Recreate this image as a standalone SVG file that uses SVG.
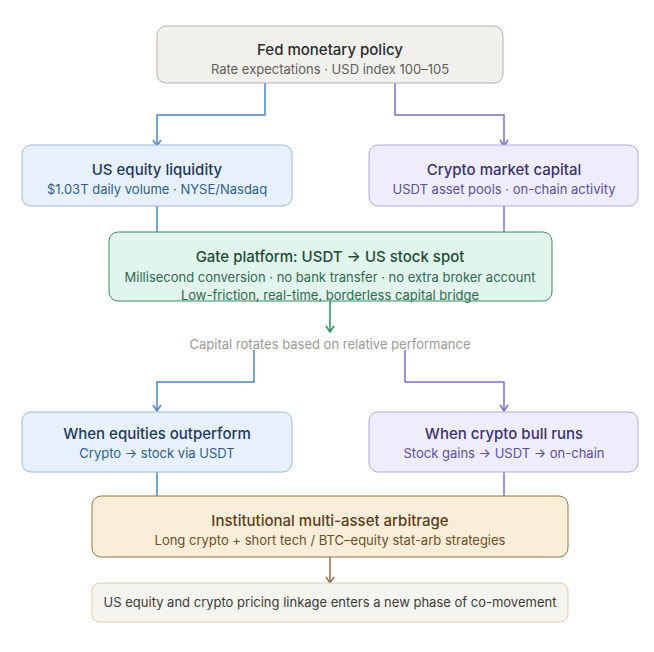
<svg xmlns="http://www.w3.org/2000/svg" width="654" height="652" viewBox="0 0 654 652">
<defs>
<style>
text{font-family:Inter,"Noto Sans","Liberation Sans",sans-serif;text-anchor:middle}
.t{font-size:15px;font-weight:500}
.s{font-size:13px}
.c{fill:none;stroke-width:1.5}
</style>
<marker id="aB" viewBox="0 0 10 10" refX="5" refY="9" markerWidth="10" markerHeight="10" markerUnits="userSpaceOnUse"><path d="M1,3 L5,9 L9,3" fill="none" stroke="#4a86c8" stroke-width="1.5"/></marker>
<marker id="aP" viewBox="0 0 10 10" refX="5" refY="9" markerWidth="10" markerHeight="10" markerUnits="userSpaceOnUse"><path d="M1,3 L5,9 L9,3" fill="none" stroke="#7b6fc8" stroke-width="1.5"/></marker>
<marker id="aG" viewBox="0 0 10 10" refX="5" refY="9" markerWidth="10" markerHeight="10" markerUnits="userSpaceOnUse"><path d="M1,3 L5,9 L9,3" fill="none" stroke="#2e8a5e" stroke-width="1.5"/></marker>
<marker id="aR" viewBox="0 0 10 10" refX="5" refY="9" markerWidth="10" markerHeight="10" markerUnits="userSpaceOnUse"><path d="M1,3 L5,9 L9,3" fill="none" stroke="#8a7060" stroke-width="1.5"/></marker>
</defs>
<rect width="654" height="652" fill="#ffffff"/>
<g id="connectors">
<path class="c" stroke="#4a86c8" d="M265,83 V115 H157 V146" marker-end="url(#aB)"/>
<path class="c" stroke="#7b6fc8" d="M395,83 V115 H504 V146" marker-end="url(#aP)"/>
<path class="c" stroke="#4a86c8" d="M157,206 V232"/>
<path class="c" stroke="#7b6fc8" d="M504,206 V232"/>
<path class="c" stroke="#2e8a5e" d="M330,301 V332" marker-end="url(#aG)"/>
<path class="c" stroke="#4a86c8" d="M254,350 V382 H157 V411" marker-end="url(#aB)"/>
<path class="c" stroke="#7b6fc8" d="M405,350 V382 H504 V411" marker-end="url(#aP)"/>
<path class="c" stroke="#4a86c8" d="M157,472 V496"/>
<path class="c" stroke="#7b6fc8" d="M504,472 V496"/>
<path class="c" stroke="#a0684a" d="M330,557 V583" marker-end="url(#aR)"/>
<text x="330" y="349" class="s" fill="#9a9a96">Capital rotates based on relative performance</text>
</g>
<g id="fed">
<rect x="157" y="26" width="346" height="57" rx="9" fill="#f1f0ec" stroke="#b4b2aa"/>
<text x="330" y="55" class="t" fill="#2c2c2a">Fed monetary policy</text>
<text x="330" y="74" class="s" fill="#5f5e5a">Rate expectations · USD index 100–105</text>
</g>
<g id="equity">
<rect x="22" y="145" width="270" height="61" rx="9" fill="#e7f1fc" stroke="#9fb8d4"/>
<text x="157" y="175" class="t" fill="#1e3a5c">US equity liquidity</text>
<text x="157" y="194" class="s" fill="#2f5f8e">$1.03T daily volume · NYSE/Nasdaq</text>
</g>
<g id="crypto">
<rect x="369" y="145" width="269" height="61" rx="9" fill="#efedfc" stroke="#b0aadc"/>
<text x="504" y="175" class="t" fill="#3a3270">Crypto market capital</text>
<text x="504" y="194" class="s" fill="#5a4fa6">USDT asset pools · on-chain activity</text>
</g>
<g id="gate">
<rect x="109" y="232" width="443" height="69" rx="9" fill="#e2f5ec" stroke="#3a8a64"/>
<text x="330" y="262" class="t" fill="#1f4a38">Gate platform: USDT → US stock spot</text>
<text x="330" y="282" class="s" fill="#2e6a50">Millisecond conversion · no bank transfer · no extra broker account</text>
<text x="330" y="300" class="s" fill="#2e6a50">Low-friction, real-time, borderless capital bridge</text>
</g>
<g id="equities-outperform">
<rect x="22" y="412" width="270" height="60" rx="9" fill="#e7f1fc" stroke="#9fb8d4"/>
<text x="157" y="439" class="t" fill="#1e3a5c">When equities outperform</text>
<text x="157" y="458" class="s" fill="#2f5f8e">Crypto → stock via USDT</text>
</g>
<g id="crypto-bull">
<rect x="369" y="412" width="269" height="60" rx="9" fill="#efedfc" stroke="#b0aadc"/>
<text x="504" y="439" class="t" fill="#3a3270">When crypto bull runs</text>
<text x="504" y="458" class="s" fill="#5a4fa6">Stock gains → USDT → on-chain</text>
</g>
<g id="arbitrage">
<rect x="92" y="496" width="476" height="61" rx="9" fill="#fbeed8" stroke="#9a7448"/>
<text x="330" y="526" class="t" fill="#5a3c1c">Institutional multi-asset arbitrage</text>
<text x="330" y="545" class="s" fill="#6e4e2c">Long crypto + short tech / BTC–equity stat-arb strategies</text>
</g>
<g id="result">
<rect x="92" y="583" width="476" height="39" rx="8" fill="#f6f4ee" stroke="#dccdb0"/>
<text x="330" y="607" class="s" fill="#3c3c3a">US equity and crypto pricing linkage enters a new phase of co-movement</text>
</g>
</svg>
